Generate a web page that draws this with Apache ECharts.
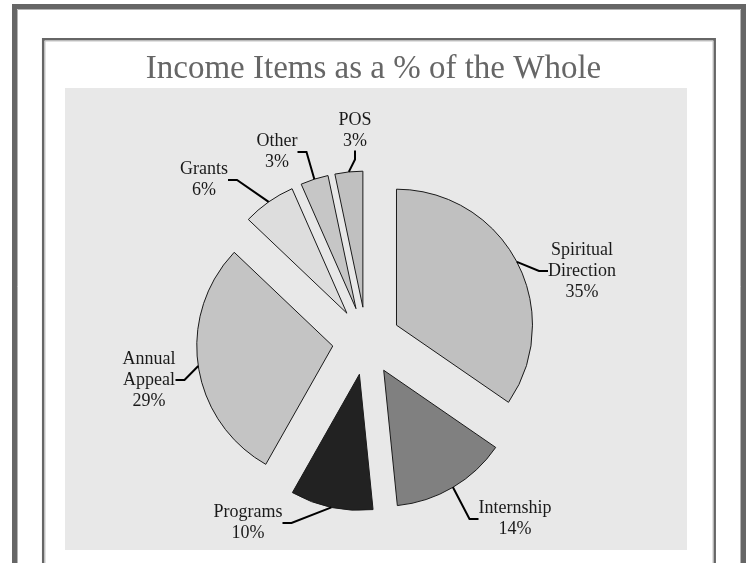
<!DOCTYPE html>
<html>
<head>
<meta charset="utf-8">
<style>
  html, body { margin: 0; padding: 0; background: #ffffff; }
  #chart { width: 747px; height: 563px; }
</style>
<script src="https://cdn.jsdelivr.net/npm/echarts@6/dist/echarts.min.js"></script>
</head>
<body>
<div id="chart"></div>
<script>
// ---- data ----
const titleText = 'Income Items as a % of the Whole';
const categories = ['Spiritual Direction', 'Internship', 'Programs', 'Annual Appeal', 'Grants', 'Other', 'POS'];
const values = [34.6, 13.8, 9.8, 28.9, 6.3, 3.3, 3.3];

// ---- styling ----
const sliceColors = ['#c0c0c0', '#808080', '#222222', '#c4c4c4', '#dddddd', '#c6c6c6', '#c0c0c0'];
const labelCenters = [[582, 271], [515, 519], [248, 523], [149, 380], [204, 180], [277, 152], [355, 131]];
const serif = '"Liberation Serif", "DejaVu Serif", serif';
const pieCenter = [366.4, 341];
const pieRadius = 136;
const explode = 34;

const chart = echarts.init(document.getElementById('chart'), null, { renderer: 'canvas' });

const pieData = categories.map((name, i) => ({
  name: name,
  value: values[i],
  selected: true,
  itemStyle: { color: sliceColors[i] }
}));

// invisible twin of the pie, used only to carry the labels and leader lines
const labelData = categories.map((name, i) => ({ name: name, value: values[i] }));

chart.setOption({
  animation: false,
  backgroundColor: '#ffffff',
  title: {
    text: titleText,
    left: 'center',
    top: 48,
    textStyle: { fontFamily: serif, fontSize: 33, fontWeight: 'normal', color: '#666666' }
  },
  graphic: [
    { type: 'rect', z: 0, silent: true, shape: { x: 14.5, y: 6.5, width: 729, height: 620 },
      style: { fill: 'none', stroke: '#666666', lineWidth: 5 } },
    { type: 'rect', z: 0, silent: true, shape: { x: 17.5, y: 9.5, width: 723, height: 620 },
      style: { fill: 'none', stroke: '#b4b4b4', lineWidth: 1 } },
    { type: 'rect', z: 0, silent: true, shape: { x: 43.2, y: 39.2, width: 671.5, height: 620 },
      style: { fill: 'none', stroke: '#666666', lineWidth: 2.5 } },
    { type: 'rect', z: 0, silent: true, shape: { x: 45, y: 41, width: 668, height: 620 },
      style: { fill: 'none', stroke: '#c4c4c4', lineWidth: 1 } },
    { type: 'rect', z: 0, silent: true, shape: { x: 65, y: 88, width: 622, height: 462 },
      style: { fill: '#e8e8e8' } }
  ],
  series: [{
    type: 'pie',
    z: 2,
    silent: true,
    center: pieCenter,
    radius: pieRadius,
    startAngle: 90,
    clockwise: true,
    selectedMode: 'multiple',
    selectedOffset: explode,
    avoidLabelOverlap: false,
    emphasis: { disabled: true, scale: false },
    itemStyle: { borderColor: '#1a1a1a', borderWidth: 1 },
    label: { show: false },
    labelLine: { show: false },
    data: pieData
  }, {
    type: 'pie',
    z: 3,
    silent: true,
    center: pieCenter,
    radius: pieRadius + explode,
    startAngle: 90,
    clockwise: true,
    selectedMode: false,
    avoidLabelOverlap: false,
    emphasis: { disabled: true, scale: false },
    itemStyle: { color: 'rgba(0,0,0,0)', borderWidth: 0 },
    label: {
      show: true,
      position: 'outside',
      formatter: function (p) {
        const parts = p.name.split(' ').map(w => '{c|' + w + '}');
        parts.push('{c|' + Math.round(p.percent) + '%}');
        return parts.join('\n');
      },
      rich: {
        c: { fontFamily: serif, fontSize: 18, lineHeight: 21, color: '#1a1a1a', align: 'center' }
      }
    },
    labelLine: {
      show: true,
      length: 10,
      length2: 9,
      lineStyle: { color: '#000000', width: 2 }
    },
    labelLayout: function (p) {
      const c = labelCenters[p.dataIndex];
      return { x: c[0], y: c[1], align: 'center', verticalAlign: 'middle' };
    },
    data: labelData
  }]
});
</script>
</body>
</html>
